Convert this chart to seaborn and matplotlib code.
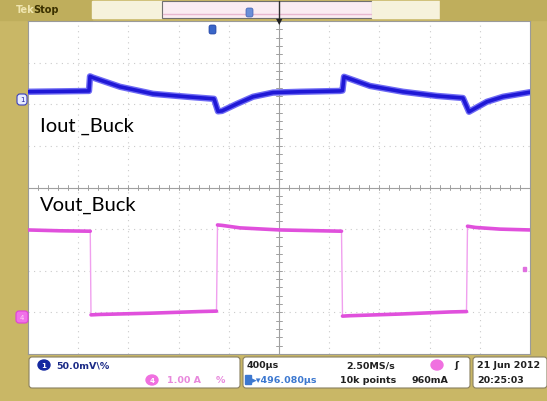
import matplotlib
matplotlib.use("Agg")
import matplotlib.pyplot as plt
import seaborn as sns
import pandas as pd
from matplotlib.patches import Rectangle, FancyBboxPatch, Ellipse

# ---------------- data (time in µs, amplitude in screen divisions) ----------------
iout_t = [0, 255, 486, 494, 518, 733, 996, 1267, 1482, 1514, 1546, 1665, 1793, 1952,
          2167, 2486, 2506, 2518, 2725, 2988, 3259, 3466, 3514, 3657, 3785, 4000]
iout_div = [2.30, 2.31, 2.32, 2.67, 2.64, 2.42, 2.25, 2.18, 2.13, 1.83, 1.84, 2.01, 2.18, 2.28,
            2.30, 2.32, 2.33, 2.66, 2.44, 2.30, 2.20, 2.15, 1.82, 2.06, 2.18, 2.29]

vout_t = [0, 255, 496, 502, 570, 972, 1371, 1502, 1510, 1546, 1689, 2008, 2498,
          2506, 2566, 2964, 3363, 3494, 3502, 3566, 3761, 4000]
vout_div = [-1.02, -1.04, -1.05, -3.06, -3.05, -3.02, -2.98, -2.97, -0.90, -0.91, -0.97, -1.02, -1.05,
            -3.09, -3.08, -3.04, -2.99, -2.98, -0.93, -0.96, -1.00, -1.02]
vout_seg = [0, 0, 0, 1, 1, 1, 1, 1, 2, 2, 2, 2, 2, 3, 3, 3, 3, 3, 4, 4, 4, 4]

labels = ["Iout _Buck", "Vout_Buck"]
readout = {"ch1": "50.0mV\\%", "ch4": "1.00 A", "tb": "400µs", "sr": "2.50MS/s",
           "pos": "496.080µs", "rec": "10k points", "trig": "960mA",
           "date": "21 Jun 2012", "time": "20:25:03"}

iout = pd.DataFrame({"t": iout_t, "v": iout_div})
vout = pd.DataFrame({"t": vout_t, "v": vout_div, "seg": vout_seg})

# ---------------- figure ----------------
sns.set_theme(style="white")
W, H = 547, 402
fig = plt.figure(figsize=(W / 100, H / 100), dpi=100)
fig.patch.set_facecolor("#c9b766")

# decoration axes in pixel coords (behind)
deco = fig.add_axes([0, 0, 1, 1], zorder=0)
deco.set_xlim(0, W); deco.set_ylim(H, 0); deco.axis("off")

# top bar
deco.add_patch(Rectangle((0, 0), 92, 21, color="#bfae5c"))
deco.add_patch(Rectangle((92, 2), 70, 17, color="#f6f2dc"))
deco.add_patch(Rectangle((162, 2), 210, 17, facecolor="#faecf2", edgecolor="#707070", lw=0.8))
deco.add_patch(Rectangle((372, 2), 68, 17, color="#f6f2dc"))
deco.add_patch(Rectangle((440, 0), 107, 21, color="#bfae5c"))
deco.plot([163, 371], [15, 15], color="#e8b8d0", lw=1)
deco.text(16, 10, "Tek", color="#f0e6b0", fontsize=7, fontweight="bold", va="center")
deco.text(33, 10, "Stop", color="#3a3000", fontsize=7, fontweight="bold", va="center")

# bottom readout boxes
deco.add_patch(FancyBboxPatch((29, 358), 211, 31, boxstyle="round,pad=0,rounding_size=3",
                              facecolor="white", edgecolor="#8a8060", lw=0.8))
deco.add_patch(FancyBboxPatch((243, 358), 227, 31, boxstyle="round,pad=0,rounding_size=3",
                              facecolor="white", edgecolor="#8a8060", lw=0.8))
deco.add_patch(FancyBboxPatch((473, 358), 74, 31, boxstyle="round,pad=0,rounding_size=3",
                              facecolor="white", edgecolor="#8a8060", lw=0.8))

# ---------------- main graticule ----------------
L, R, T, B = 28, 530, 22, 355
ax = fig.add_axes([L / W, 1 - B / H, (R - L) / W, (B - T) / H], zorder=1)
ax.set_facecolor("white")
ax.set_xlim(0, 4000); ax.set_ylim(-4, 4)
ax.set_xticks([]); ax.set_yticks([])
for s in ax.spines.values():
    s.set_color("#9a9a9a"); s.set_linewidth(0.8)
for x in range(400, 4000, 400):
    if x != 2000:
        ax.axvline(x, color="#cacaca", lw=0.8, ls=(0, (1, 4)), zorder=0)
for y in range(-3, 4):
    if y != 0:
        ax.axhline(y, color="#cacaca", lw=0.8, ls=(0, (1, 4)), zorder=0)
ax.axvline(2000, color="#a0a0a0", lw=0.8, zorder=0)
ax.axhline(0, color="#a0a0a0", lw=0.8, zorder=0)
for k in range(1, 50):
    xx = k * 80
    ax.plot([xx, xx], [-0.06, 0.06], color="#a0a0a0", lw=0.7, zorder=0)
for k in range(-19, 20):
    yy = k * 0.2
    ax.plot([1975, 2025], [yy, yy], color="#a0a0a0", lw=0.7, zorder=0)

# traces
sns.lineplot(data=iout, x="t", y="v", ax=ax, sort=False, color="#6e6af4", lw=4.6, zorder=3)
sns.lineplot(data=iout, x="t", y="v", ax=ax, sort=False, color="#1f18d6", lw=2.6, zorder=4)
sns.lineplot(data=vout, x="t", y="v", ax=ax, sort=False, color="#f0a0ee", lw=1.0, zorder=3)
sns.lineplot(data=vout, x="t", y="v", units="seg", estimator=None, ax=ax, sort=False,
             color="#e050dc", lw=2.6, zorder=4)
ax.set_xlabel(""); ax.set_ylabel("")

# ---------------- overlay (markers + text) ----------------
ov = fig.add_axes([0, 0, 1, 1], zorder=2)
ov.set_xlim(0, W); ov.set_ylim(H, 0); ov.axis("off"); ov.patch.set_alpha(0)

lab_font = ["Lato", "DejaVu Sans"]
ov.text(40, 126, labels[0], fontsize=14.5, family=lab_font, color="black", va="center")
ov.text(40, 205, labels[1], fontsize=14.5, family=lab_font, color="black", va="center")

# channel markers on left edge
ov.add_patch(FancyBboxPatch((17, 95), 10, 11, boxstyle="round,pad=0,rounding_size=3",
                            facecolor="#e8ecff", edgecolor="#3a40c0", lw=0.8))
ov.text(22, 100.5, "1", fontsize=5, color="#2020a0", ha="center", va="center")
ov.add_patch(FancyBboxPatch((16, 312), 12, 12, boxstyle="round,pad=0,rounding_size=3",
                            facecolor="#f070e8", edgecolor="#e040d8", lw=0.8))
ov.text(22, 318, "4", fontsize=5, color="#ffd0f8", ha="center", va="center")
# trigger level marker on right
ov.add_patch(Rectangle((523, 268), 3, 4, color="#e070e0"))
# trigger position markers
ov.add_patch(FancyBboxPatch((209, 26), 7, 9, boxstyle="round,pad=0,rounding_size=2",
                            facecolor="#3a66c8", edgecolor="#2040a0", lw=0.5))
ov.add_patch(FancyBboxPatch((246, 9), 7, 9, boxstyle="round,pad=0,rounding_size=2",
                            facecolor="#6a8ed8", edgecolor="#4060b0", lw=0.5))
ov.plot([279, 279], [2, 20], color="#303030", lw=1)
ov.text(279, 22, "▼", fontsize=6, color="#202020", ha="center", va="center")

# readout text
f = dict(fontsize=6.8, family="DejaVu Sans", va="center", fontweight="bold")
ov.add_patch(Ellipse((44, 366), 12, 10, color="#1428a0"))
ov.text(44, 366, "1", color="white", ha="center", **dict(f, fontsize=5))
ov.text(56, 366, readout["ch1"], color="#1a2a86", **f)
ov.add_patch(Ellipse((152, 381), 12, 10, color="#f070e0"))
ov.text(152, 381, "4", color="white", ha="center", **dict(f, fontsize=5))
ov.text(167, 381, readout["ch4"], color="#e888dc", **f)
ov.text(216, 381, "%", color="#e888dc", **f)
ov.text(247, 366, readout["tb"], color="#202020", **f)
ov.add_patch(Rectangle((245, 376), 6, 9, color="#3c78d0"))
ov.text(252, 381, "▸▾" + readout["pos"], color="#3c78d0", **f)
ov.text(346, 366, readout["sr"], color="#202020", **f)
ov.text(340, 381, readout["rec"], color="#202020", **f)
ov.add_patch(Ellipse((437, 366), 12, 10, color="#f070e0"))
ov.text(454, 366, "ʃ", color="#202020", **f)
ov.text(412, 381, readout["trig"], color="#202020", **f)
ov.text(477, 366, readout["date"], color="#202020", **f)
ov.text(477, 381, readout["time"], color="#202020", **f)

fig.savefig("out.png", dpi=100, facecolor=fig.get_facecolor())
